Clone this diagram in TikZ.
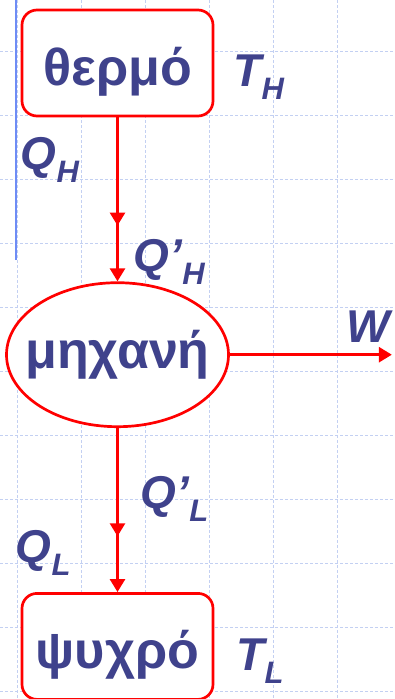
\documentclass[tikz,border=0pt]{standalone}
\usepackage{fontspec}
\setmainfont{Liberation Sans}
\usetikzlibrary{positioning,calc,shapes.geometric,arrows.meta,decorations.markings}
\definecolor{inkblue}{RGB}{63,66,140}
\definecolor{gridblue}{RGB}{195,208,242}
\definecolor{barblue}{RGB}{110,140,245}
\tikzset{
  gridline/.style={gridblue, line width=1pt, dash pattern=on 3pt off 2pt},
  reservoir/.style={draw=red, line width=2.7pt, rounded corners=15pt, fill=white,
    minimum width=191pt, minimum height=106pt, text height=45pt, text depth=0pt,
    text=inkblue, font=\fontsize{52}{52}\selectfont\bfseries},
  engine/.style={ellipse, draw=red, line width=2.7pt, fill=white, inner sep=0pt,
    minimum width=222pt, minimum height=144pt,
    text=inkblue, font=\fontsize{52}{52}\selectfont\bfseries},
  flow/.style={red, line width=2.7pt, -{Triangle[width=15pt,length=13pt]}},
  midtip/.style={postaction={decorate}, decoration={markings,
    mark=at position 0.66 with {\arrow{Triangle[width=15pt,length=13pt]}}}},
  lbl/.style={text=inkblue, font=\fontsize{46}{46}\selectfont\bfseries\itshape,
    inner sep=0pt, anchor=base west},
}
\newcommand{\qsub}[2]{#1\raisebox{-13pt}{\fontsize{31}{31}\selectfont #2}}

\begin{document}
\begin{tikzpicture}[x=1pt, y=-1pt]
    \fill[white] (0,0) rectangle (394,699);
    \useasboundingbox (0,0) rectangle (394,699);
    % background grid
    \foreach \gx in {17,81,...,337} \draw[gridline] (\gx,0) -- (\gx,699);
    \foreach \gy in {51,115,...,691} \draw[gridline] (0,\gy) -- (394,\gy);
    \draw[barblue, line width=2pt] (16,0) -- (16,260);
    % reservoirs and engine
    \node[reservoir] (hot) at (117.5,63) {θερμό};
    \node[engine, below=164pt of hot] (eng) {\makebox[0pt]{μηχανή}};
    \node[reservoir, below=164pt of eng] (cold) {ψυχρό};
    \coordinate[right=162pt of eng.east] (wend);
    \draw[flow, midtip] (hot) -- (eng);
    \draw[flow, midtip] (eng) -- (cold);
    \draw[flow] (eng) -- (wend);
    % labels
    \node[lbl] (th) at ($(hot.east)+(19,23)$) {\qsub{T}{H}};
    \node[lbl] (qh) at ($(hot.south west)+(0,52)$) {\qsub{Q}{H}};
    \node[lbl] (qph) at ($(eng.north)+(16,-10)$) {\qsub{Q’}{H}};
    \node[lbl] (qpl) at ($(eng.south)+(23,80)$) {\qsub{Q’}{L}};
    \node[lbl] (ql) at ($(cold.north west)+(-5,-30)$) {\qsub{Q}{L}};
    \node[lbl] (tl) at ($(cold.east)+(22,24)$) {\qsub{T}{L}};
    \node[lbl] (w) at ($(eng.east)+(116,-12)$) {W};
\end{tikzpicture}
\end{document}
